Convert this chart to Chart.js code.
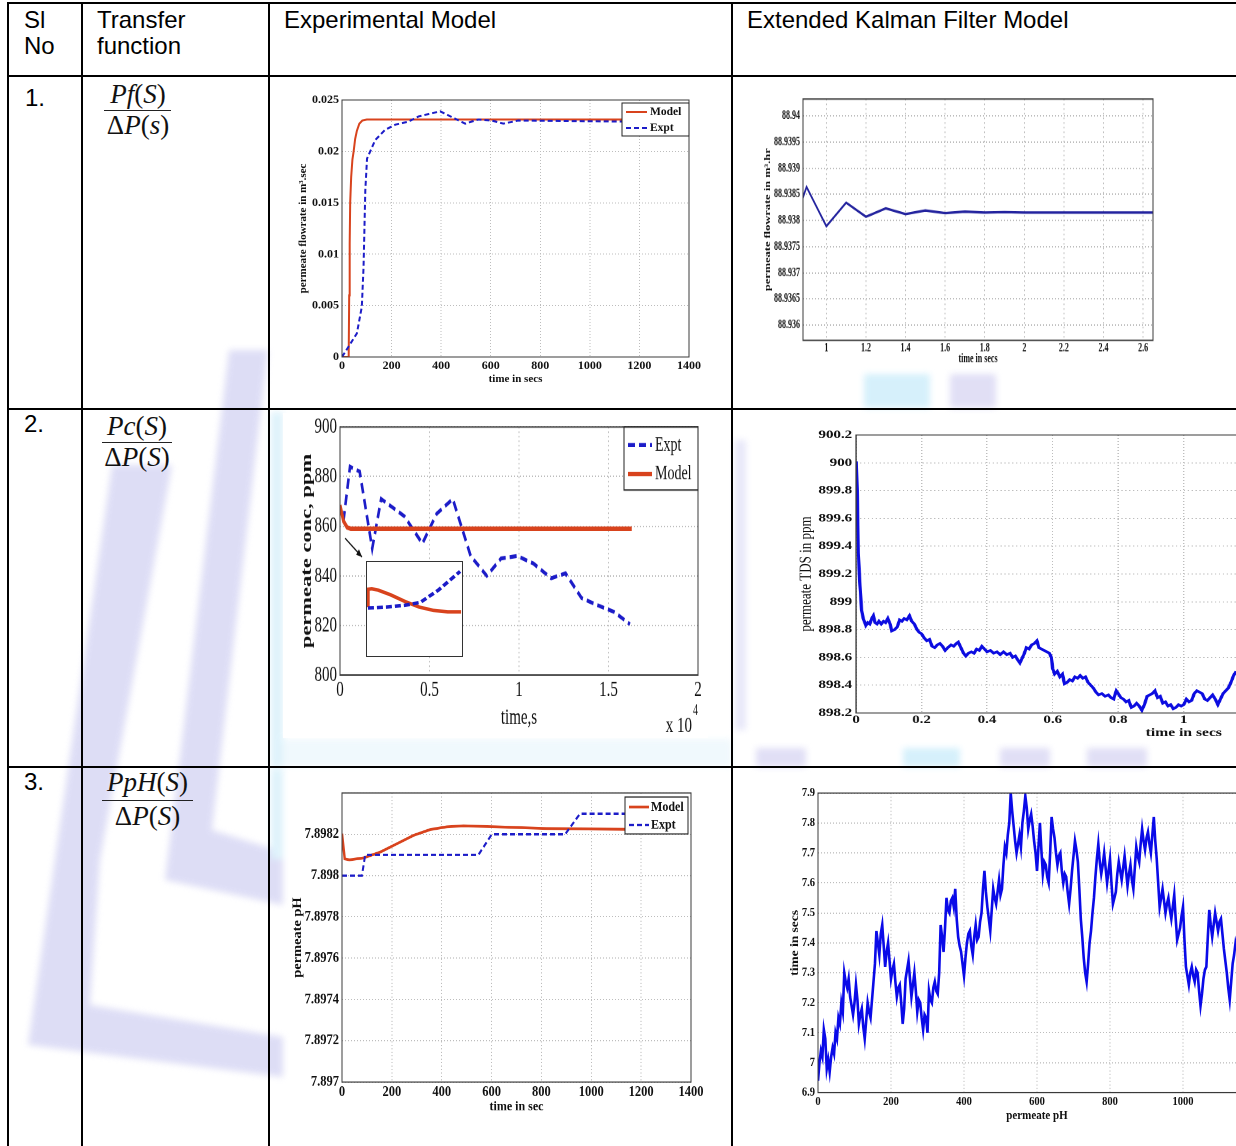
<!DOCTYPE html>
<html>
<head>
<meta charset="utf-8">
<script src="https://cdn.jsdelivr.net/npm/chart.js@4.4.1/dist/chart.umd.min.js"></script>
<style>
  html, body { margin: 0; padding: 0; background: #fff; }
  body { width: 1236px; height: 1146px; overflow: hidden; position: relative; font-family: 'Liberation Sans', Arial, sans-serif; }
  .hline { position: absolute; height: 2px; background: #000; left: 7px; width: 1240px; }
  .vline { position: absolute; width: 2px; background: #000; top: 2px; height: 1150px; }
  .hd { position: absolute; font-size: 24px; line-height: 26px; color: #000; white-space: nowrap; }
  .math { position: absolute; font-family: 'Liberation Serif', 'Times New Roman', serif; font-size: 27px; line-height: 27px; text-align: center; color: #111; white-space: nowrap; }
  .bar { position: absolute; height: 1px; background: #222; }
  .plot { position: absolute; transform-origin: 0 0; }
  .inset { position: absolute; background: #fff; border: 1px solid #333; }
</style>
</head>
<body>

<!-- watermark of the journal page, very light -->
<svg width="1236" height="1146" style="position:absolute;left:0;top:0">
  <defs><filter id="soft"><feGaussianBlur stdDeviation="3"/></filter></defs>
  <g filter="url(#soft)" opacity="0.85">
    <polygon points="229,350 268,350 212,830 283,852 283,905 165,880" fill="#d8d8f4"/>
    <polygon points="112,465 172,465 100,860 90,1005 283,1037 283,1077 28,1045" fill="#d8d8f4"/>
    <rect x="864" y="374" width="66" height="34" fill="#cfeefb"/>
    <rect x="950" y="374" width="46" height="34" fill="#dcdaf4"/>
    <rect x="756" y="748" width="50" height="19" fill="#dcdaf4"/>
    <rect x="903" y="748" width="57" height="19" fill="#cfeefb"/>
    <rect x="1000" y="748" width="50" height="19" fill="#dcdaf4"/>
    <rect x="1087" y="748" width="60" height="19" fill="#dcdaf4"/>
    <rect x="735" y="440" width="11" height="290" fill="#e4e4f8"/>
    <rect x="271" y="412" width="12" height="355" fill="#d9f1fb"/>
    <rect x="283" y="739" width="449" height="28" fill="#eef8fd"/>
    <rect x="271" y="769" width="12" height="90" fill="#d9f1fb"/>
  </g>
</svg>

<div style="position:absolute;left:283px;top:413px;width:425px;height:325px;background:#fff"></div>

<div class="plot" id="p1"></div>
<div class="plot" id="p2"></div>
<div class="plot" id="p3"></div>
<div class="plot" id="p4"></div>
<div class="plot" id="p5"></div>
<div class="plot" id="p6"></div>
<div class="inset" style="left:366px;top:561px;width:95px;height:94px"><canvas id="inset" width="95" height="94"></canvas></div>

<!-- table text -->
<div class="hd" style="left:24px;top:7px">Sl<br>No</div>
<div class="hd" style="left:97px;top:7px">Transfer<br>function</div>
<div class="hd" style="left:284px;top:7px">Experimental Model</div>
<div class="hd" style="left:747px;top:7px">Extended Kalman Filter Model</div>
<div class="hd" style="left:25px;top:85px">1.</div>
<div class="hd" style="left:24px;top:411px">2.</div>
<div class="hd" style="left:24px;top:769px">3.</div>

<div class="math" style="left:104px;top:81px;width:68px"><i>Pf</i>(<i>S</i>)</div>
<div class="bar" style="left:104px;top:110px;width:67px"></div>
<div class="math" style="left:104px;top:112px;width:68px">Δ<i>P</i>(<i>s</i>)</div>

<div class="math" style="left:102px;top:413px;width:70px"><i>Pc</i>(<i>S</i>)</div>
<div class="bar" style="left:102px;top:442px;width:70px"></div>
<div class="math" style="left:102px;top:444px;width:70px">Δ<i>P</i>(<i>S</i>)</div>

<div class="math" style="left:102px;top:769px;width:91px"><i>PpH</i>(<i>S</i>)</div>
<div class="bar" style="left:102px;top:800px;width:91px"></div>
<div class="math" style="left:102px;top:803px;width:91px">Δ<i>P</i>(<i>S</i>)</div>

<!-- table rules -->
<div class="hline" style="top:2px"></div>
<div class="hline" style="top:75px"></div>
<div class="hline" style="top:408px"></div>
<div class="hline" style="top:766px"></div>
<div class="vline" style="left:7px"></div>
<div class="vline" style="left:81px"></div>
<div class="vline" style="left:268px"></div>
<div class="vline" style="left:731px"></div>

<script>
// ---------- row 1: permeate flowrate ----------
const flowModelT = [0, 27, 29, 31, 33, 37, 42, 47, 53, 60, 70, 82, 100, 1150];
const flowModelY = [0, 0, 0.006, 0.011, 0.015, 0.0175, 0.0192, 0.0200, 0.0212, 0.0220, 0.0227, 0.0230, 0.0231, 0.0231];
const flowExptT = [0, 34, 60, 67, 80, 87, 94, 101, 134, 174, 215, 268, 309, 396, 497, 550, 604, 651, 711, 1150];
const flowExptY = [0, 0.0013, 0.0023, 0.0032, 0.0049, 0.0088, 0.0162, 0.0193, 0.0211, 0.0221, 0.0226, 0.0229, 0.0234, 0.0239, 0.0227, 0.0231, 0.0230, 0.0227, 0.0230, 0.0229];
const flowTicksX = [0, 200, 400, 600, 800, 1000, 1200, 1400];
const flowLabelsX = ['0', '200', '400', '600', '800', '1000', '1200', '1400'];
const flowTicksY = [0, 0.005, 0.01, 0.015, 0.02, 0.025];
const flowLabelsY = ['0', '0.005', '0.01', '0.015', '0.02', '0.025'];

const ekfFlowT = [0.88, 0.9, 1.0, 1.1, 1.2, 1.3, 1.4, 1.5, 1.6, 1.7, 1.8, 1.9, 2.0, 2.65];
const ekfFlowY = [88.93842, 88.93864, 88.93789, 88.93834, 88.93807, 88.93823, 88.93812, 88.93819, 88.93814, 88.93817, 88.93815, 88.93816, 88.93815, 88.93815];
const ekfFlowTicksX = [1, 1.2, 1.4, 1.6, 1.8, 2, 2.2, 2.4, 2.6];
const ekfFlowLabelsX = ['1', '1.2', '1.4', '1.6', '1.8', '2', '2.2', '2.4', '2.6'];
const ekfFlowTicksY = [88.936, 88.9365, 88.937, 88.9375, 88.938, 88.9385, 88.939, 88.9395, 88.94];
const ekfFlowLabelsY = ['88.936', '88.9365', '88.937', '88.9375', '88.938', '88.9385', '88.939', '88.9395', '88.94'];

// ---------- row 2: permeate concentration / TDS ----------
const concExptT = [190, 560, 1100, 1800, 2300, 3600, 4600, 5400, 6300, 7300, 8200, 9000, 9900, 10800, 11800, 12600, 13500, 14600, 15300, 16200];
const concExptY = [862, 884, 882, 851, 871, 864, 853, 865, 871, 848, 840, 847, 848, 845, 839, 841, 831, 827.5, 825.5, 820.5];
const concModelT = [0, 200, 400, 600, 16300];
const concModelY = [868.5, 862, 859.5, 859, 859];
const concTicksX = [0, 5000, 10000, 15000, 20000];
const concLabelsX = ['0', '0.5', '1', '1.5', '2'];
const concTicksY = [800, 820, 840, 860, 880, 900];
const concLabelsY = ['800', '820', '840', '860', '880', '900'];
// zoomed inset (relative units inside the small box)
const insetModelX = [0.01, 0.01, 0.05, 0.12, 0.25, 0.4, 0.55, 0.7, 0.85, 0.99];
const insetModelY = [0.52, 0.71, 0.715, 0.70, 0.65, 0.58, 0.52, 0.485, 0.47, 0.47];
const insetExptX = [0.01, 0.2, 0.4, 0.56, 0.75, 0.98];
const insetExptY = [0.51, 0.52, 0.54, 0.57, 0.70, 0.90];

const tdsT = [0.001,0.004,0.007,0.012,0.017,0.022,0.030,0.036,0.042,0.048,
  0.053,0.058,0.064,0.070,0.077,0.084,0.090,0.097,0.104,0.109,
  0.118,0.126,0.133,0.140,0.147,0.155,0.163,0.170,0.178,0.186,
  0.193,0.200,0.208,0.216,0.224,0.232,0.240,0.248,0.256,0.264,
  0.272,0.280,0.290,0.298,0.306,0.312,0.320,0.328,0.335,0.343,
  0.352,0.360,0.368,0.376,0.384,0.392,0.400,0.410,0.420,0.430,
  0.440,0.450,0.460,0.470,0.478,0.486,0.494,0.500,0.506,0.512,
  0.520,0.528,0.536,0.544,0.552,0.558,0.566,0.574,0.582,0.590,
  0.596,0.600,0.606,0.614,0.622,0.630,0.636,0.644,0.652,0.660,
  0.668,0.676,0.684,0.692,0.700,0.708,0.716,0.724,0.732,0.740,
  0.750,0.760,0.770,0.778,0.786,0.794,0.800,0.808,0.816,0.824,
  0.832,0.840,0.848,0.856,0.864,0.872,0.880,0.888,0.896,0.904,
  0.912,0.920,0.928,0.936,0.944,0.952,0.960,0.968,0.976,0.984,
  0.992,1.000,1.008,1.016,1.024,1.032,1.040,1.048,1.056,1.064,
  1.072,1.080,1.088,1.096,1.104,1.112,1.120,1.128,1.136,1.144,
  1.152,1.160];
const tdsY = [900.01,899.75,899.35,899.12,898.94,898.88,898.83,898.85,898.84,898.88,
  898.90,898.85,898.84,898.86,898.84,898.86,898.85,898.88,898.84,898.79,
  898.80,898.82,898.87,898.86,898.88,898.87,898.90,898.86,898.84,898.80,
  898.78,898.77,898.74,898.72,898.73,898.68,898.67,898.69,898.70,898.68,
  898.65,898.67,898.69,898.68,898.70,898.71,898.67,898.63,898.61,898.63,
  898.64,898.63,898.66,898.65,898.68,898.66,898.64,898.65,898.63,898.64,
  898.62,898.64,898.62,898.63,898.60,898.61,898.58,898.56,898.59,898.62,
  898.67,898.66,898.69,898.70,898.72,898.67,898.66,898.65,898.64,898.63,
  898.60,898.52,898.48,898.50,898.46,898.48,898.41,898.42,898.44,898.43,
  898.46,898.45,898.47,898.45,898.46,898.42,898.40,898.38,898.35,898.33,
  898.34,898.32,898.33,898.31,898.30,898.36,898.34,898.31,898.30,898.28,
  898.29,898.24,898.25,898.27,898.25,898.22,898.26,898.32,898.33,898.34,
  898.36,898.31,898.32,898.27,898.28,898.25,898.26,898.23,898.24,898.26,
  898.25,898.26,898.30,898.28,898.29,898.34,898.36,898.35,898.34,898.30,
  898.29,898.31,898.33,898.30,898.26,898.30,898.34,898.36,898.38,898.42,
  898.47,898.50];
const tdsTicksX = [0, 0.2, 0.4, 0.6, 0.8, 1, 1.2, 1.4, 1.6, 1.8, 2];
const tdsLabelsX = ['0', '0.2', '0.4', '0.6', '0.8', '1', '1.2', '1.4', '1.6', '1.8', '2'];
const tdsTicksY = [898.2, 898.4, 898.6, 898.8, 899, 899.2, 899.4, 899.6, 899.8, 900, 900.2];
const tdsLabelsY = ['898.2', '898.4', '898.6', '898.8', '899', '899.2', '899.4', '899.6', '899.8', '900', '900.2'];

// ---------- row 3: permeate pH ----------
const phModelT = [0, 11, 30, 87, 154, 220, 287, 354, 420, 487, 620, 821, 1150];
const phModelY = [7.898203, 7.898081, 7.898076, 7.898086, 7.898114, 7.898154, 7.898195, 7.898223, 7.898236, 7.898241, 7.898236, 7.898228, 7.898224];
const phExptT = [0, 80, 93, 547, 601, 895, 955, 1150];
const phExptY = [7.8980, 7.8980, 7.8981, 7.8981, 7.8982, 7.8982, 7.8983, 7.8983];
const phTicksX = [0, 200, 400, 600, 800, 1000, 1200, 1400];
const phLabelsX = ['0', '200', '400', '600', '800', '1000', '1200', '1400'];
const phTicksY = [7.897, 7.8972, 7.8974, 7.8976, 7.8978, 7.898, 7.8982, 7.8984];
const phLabelsY = ['7.897', '7.8972', '7.8974', '7.8976', '7.8978', '7.898', '7.8982', ''];

const ekfPhX = [0,4,8,12,16,20,24,28,32,36,40,44,48,52,56,60,64,68,72,76,
  80,84,88,92,96,100,104,108,112,116,120,124,128,132,136,140,144,148,152,156,
  160,164,168,172,176,180,184,188,192,196,200,204,208,212,216,220,224,228,232,236,
  240,244,248,252,256,260,264,268,272,276,280,284,288,292,296,300,304,308,312,316,
  320,324,328,332,336,340,344,348,352,356,360,364,368,372,376,380,384,388,392,396,
  400,404,408,412,416,420,424,428,432,436,440,444,448,452,456,460,464,468,472,476,
  480,484,488,492,496,500,504,508,512,516,520,524,528,532,536,540,544,548,552,556,
  560,564,568,572,576,580,584,588,592,596,600,604,608,612,616,620,624,628,632,636,
  640,644,648,652,656,660,664,668,672,676,680,684,688,692,696,700,704,708,712,716,
  720,724,728,732,736,740,744,748,752,756,760,764,768,772,776,780,784,788,792,796,
  800,804,808,812,816,820,824,828,832,836,840,844,848,852,856,860,864,868,872,876,
  880,884,888,892,896,900,904,908,912,916,920,924,928,932,936,940,944,948,952,956,
  960,964,968,972,976,980,984,988,992,996,1000,1004,1008,1012,1016,1020,1024,1028,1032,1036,
  1040,1044,1048,1052,1056,1060,1064,1068,1072,1076,1080,1084,1088,1092,1096,1100,1104,1108,1112,1116,
  1120,1124,1128,1132,1136,1140,1144,1148];
const ekfPhY = [6.94,7.00,7.04,7.02,7.11,7.08,6.98,7.01,6.97,7.02,7.05,7.03,7.10,7.08,7.15,7.13,7.20,7.17,7.30,7.27,
  7.25,7.28,7.22,7.19,7.16,7.20,7.26,7.21,7.13,7.16,7.18,7.12,7.08,7.14,7.20,7.17,7.15,7.21,7.27,7.33,
  7.44,7.40,7.36,7.43,7.46,7.39,7.32,7.37,7.40,7.34,7.28,7.31,7.33,7.27,7.22,7.25,7.26,7.20,7.13,7.18,
  7.28,7.31,7.34,7.28,7.22,7.26,7.30,7.24,7.17,7.21,7.20,7.15,7.11,7.16,7.15,7.10,7.24,7.21,7.20,7.25,
  7.27,7.24,7.23,7.30,7.46,7.42,7.37,7.45,7.55,7.51,7.50,7.54,7.55,7.52,7.58,7.48,7.42,7.39,7.37,7.33,
  7.29,7.35,7.40,7.43,7.44,7.39,7.36,7.42,7.46,7.41,7.42,7.47,7.50,7.58,7.64,7.57,7.52,7.48,7.44,7.51,
  7.58,7.55,7.53,7.57,7.61,7.56,7.58,7.66,7.72,7.70,7.76,7.80,7.90,7.84,7.79,7.74,7.70,7.73,7.76,7.72,
  7.80,7.84,7.89,7.85,7.78,7.81,7.83,7.79,7.74,7.70,7.64,7.72,7.80,7.71,7.63,7.67,7.66,7.62,7.60,7.70,
  7.82,7.78,7.75,7.70,7.66,7.69,7.70,7.64,7.60,7.63,7.62,7.57,7.53,7.58,7.64,7.69,7.74,7.71,7.67,7.58,
  7.48,7.42,7.35,7.30,7.27,7.33,7.40,7.44,7.50,7.55,7.62,7.68,7.73,7.67,7.63,7.66,7.70,7.65,7.60,7.64,
  7.68,7.60,7.53,7.55,7.57,7.63,7.67,7.64,7.61,7.65,7.69,7.64,7.59,7.63,7.66,7.61,7.58,7.65,7.72,7.69,
  7.67,7.73,7.78,7.74,7.71,7.75,7.77,7.73,7.70,7.76,7.82,7.74,7.68,7.60,7.52,7.55,7.58,7.54,7.50,7.53,
  7.55,7.51,7.48,7.52,7.56,7.48,7.41,7.43,7.45,7.49,7.52,7.41,7.32,7.29,7.26,7.30,7.32,7.29,7.27,7.31,
  7.30,7.24,7.19,7.23,7.28,7.31,7.32,7.42,7.51,7.46,7.42,7.46,7.50,7.47,7.44,7.47,7.48,7.43,7.38,7.34,
  7.30,7.25,7.21,7.27,7.33,7.36,7.40,7.38];
const ekfPhTicksX = [0, 200, 400, 600, 800, 1000, 1200];
const ekfPhLabelsX = ['0', '200', '400', '600', '800', '1000', '1200'];
const ekfPhTicksY = [6.9, 7, 7.1, 7.2, 7.3, 7.4, 7.5, 7.6, 7.7, 7.8, 7.9];
const ekfPhLabelsY = ['6.9', '7', '7.1', '7.2', '7.3', '7.4', '7.5', '7.6', '7.7', '7.8', '7.9'];

// ---------- drawing ----------
const SERIF = "'Liberation Serif', 'Times New Roman', serif";
const RED = '#d8431d';
const BLUE = '#1c1cc8';

function serif(size, weight) {
    return { family: SERIF, size: size, weight: weight || 'bold', lineHeight: 1.2 };
}

function series(label, xs, ys, color, width, dash, order) {
    return {
        label: label,
        data: xs.map((x, i) => ({ x: x, y: ys[i] })),
        borderColor: color,
        borderWidth: width,
        borderDash: dash || [],
        pointRadius: 0,
        tension: 0,
        fill: false,
        order: order || 0
    };
}

// MATLAB style box round the axes
const frame = () => ({
    id: 'frame',
    afterDatasetsDraw(chart) {
        const { ctx, chartArea: a } = chart;
        ctx.save();
        ctx.strokeStyle = '#3a3a3a';
        ctx.lineWidth = 1;
        ctx.strokeRect(a.left, a.top, a.right - a.left, a.bottom - a.top);
        ctx.restore();
    }
});

// legend box inside the axes (page coordinates, converted to the canvas)
const legendBox = spec => ({ ix, iy }) => ({
    id: 'legendBox',
    afterDraw(chart) {
        const ctx = chart.ctx;
        const x0 = ix(spec.box[0]), y0 = iy(spec.box[1]);
        const x1 = ix(spec.box[0] + spec.box[2]), y1 = iy(spec.box[1] + spec.box[3]);
        ctx.save();
        ctx.fillStyle = '#fff';
        ctx.fillRect(x0, y0, x1 - x0, y1 - y0);
        ctx.strokeStyle = '#222';
        ctx.lineWidth = 1;
        ctx.strokeRect(x0, y0, x1 - x0, y1 - y0);
        ctx.font = spec.font;
        ctx.textBaseline = 'middle';
        ctx.textAlign = 'left';
        spec.items.forEach((di, k) => {
            const ds = chart.data.datasets[di];
            const y = iy(spec.rows[k]);
            ctx.strokeStyle = ds.borderColor;
            ctx.lineWidth = ds.borderWidth;
            ctx.setLineDash(ds.borderDash || []);
            ctx.beginPath();
            ctx.moveTo(ix(spec.line[0]), y);
            ctx.lineTo(ix(spec.line[1]), y);
            ctx.stroke();
            ctx.setLineDash([]);
            ctx.fillStyle = '#111';
            ctx.fillText(ds.label, ix(spec.textX), y);
        });
        ctx.restore();
    }
});

// arrow pointing at the zoomed region, given in data values
const arrowNote = (from, to) => () => ({
    id: 'arrowNote',
    afterDatasetsDraw(chart) {
        const { ctx, scales: { x, y } } = chart;
        const x1 = x.getPixelForValue(from[0]), y1 = y.getPixelForValue(from[1]);
        const x2 = x.getPixelForValue(to[0]), y2 = y.getPixelForValue(to[1]);
        const ang = Math.atan2(y2 - y1, x2 - x1);
        ctx.save();
        ctx.strokeStyle = '#111';
        ctx.fillStyle = '#111';
        ctx.lineWidth = 1;
        ctx.beginPath();
        ctx.moveTo(x1, y1);
        ctx.lineTo(x2, y2);
        ctx.stroke();
        ctx.beginPath();
        ctx.moveTo(x2, y2);
        ctx.lineTo(x2 - 6 * Math.cos(ang - 0.4), y2 - 6 * Math.sin(ang - 0.4));
        ctx.lineTo(x2 - 6 * Math.cos(ang + 0.4), y2 - 6 * Math.sin(ang + 0.4));
        ctx.closePath();
        ctx.fill();
        ctx.restore();
    }
});

// "x 10^4" multiplier under the x axis
const expNote = () => ({ ix, iy }) => ({
    id: 'expNote',
    afterDraw(chart) {
        const ctx = chart.ctx;
        ctx.save();
        ctx.fillStyle = '#111';
        ctx.textBaseline = 'alphabetic';
        ctx.textAlign = 'right';
        ctx.font = '15px ' + SERIF;
        ctx.fillText('x 10', ix(692), iy(732));
        ctx.textAlign = 'left';
        ctx.font = '10px ' + SERIF;
        ctx.fillText('4', ix(693), iy(715));
        ctx.restore();
    }
});

// g: page geometry of the picture (box, plot area, title and tick positions, stretch)
function drawPlot(id, g, datasets, ax, extras) {
    const W = g.box[2] / g.sx, H = g.box[3] / g.sy;
    const ix = px => (px - g.box[0]) / g.sx;
    const iy = py => (py - g.box[1]) / g.sy;
    const yW = ix(g.area[0]), padTop = iy(g.area[1]);
    const padRight = W - ix(g.area[2]), xH = H - iy(g.area[3]);

    const wrap = document.getElementById(id);
    wrap.style.left = g.box[0] + 'px';
    wrap.style.top = g.box[1] + 'px';
    wrap.style.transform = 'scale(' + g.sx + ',' + g.sy + ')';
    const cv = document.createElement('canvas');
    cv.width = Math.round(W);
    cv.height = Math.round(H);
    wrap.appendChild(cv);

    const axis = (a, horiz) => ({
        type: 'linear',
        min: a.min,
        max: a.max,
        afterBuildTicks: s => { s.ticks = a.ticks.map(v => ({ value: v })); },
        afterFit: s => { if (horiz) s.height = xH; else s.width = yW; },
        ticks: {
            autoSkip: false,
            maxRotation: 0,
            color: '#111',
            font: a.tickFont,
            padding: horiz ? iy(g.xTickY) - iy(g.area[3]) - a.tickFont.size * 0.6 : 3,
            callback: (v, i) => a.labels[i]
        },
        grid: { color: '#bdbdbd', lineWidth: 1, drawTicks: false },
        border: { display: false, dash: [1, 2] },
        title: {
            display: true,
            text: a.title,
            color: '#111',
            font: a.titleFont,
            padding: horiz
                ? { top: 0, bottom: H - iy(g.xTitleY) - a.titleFont.size * 0.6 }
                : { top: ix(g.yTitleX) - a.titleFont.size * 0.6, bottom: 0 }
        }
    });

    const helpers = { ix, iy };
    return new Chart(cv, {
        type: 'line',
        data: { datasets: datasets },
        options: {
            responsive: false,
            animation: false,
            devicePixelRatio: 2,
            layout: { padding: { top: padTop, right: padRight, left: 0, bottom: 0 } },
            plugins: { legend: { display: false }, tooltip: { enabled: false } },
            scales: { x: axis(ax.x, true), y: axis(ax.y, false) }
        },
        plugins: [frame()].concat((extras || []).map(f => f(helpers)))
    });
}

// row 1, experimental
drawPlot('p1',
    { box: [285, 85, 425, 303], area: [342, 100, 689, 357], sx: 1, sy: 1, yTitleX: 303, xTitleY: 379, xTickY: 366 },
    [series('Model', flowModelT, flowModelY, RED, 2, [], 1),
     series('Expt', flowExptT, flowExptY, BLUE, 2, [5, 3], 0)],
    {
        x: { min: 0, max: 1400, ticks: flowTicksX, labels: flowLabelsX, tickFont: serif(12), title: 'time in secs', titleFont: serif(11) },
        y: { min: 0, max: 0.025, ticks: flowTicksY, labels: flowLabelsY, tickFont: serif(12), title: 'permeate flowrate in m³.sec', titleFont: serif(11) }
    },
    [legendBox({ box: [622, 103, 67, 33], rows: [112, 128], line: [626, 647], textX: 650, font: 'bold 11.5px ' + SERIF, items: [0, 1] })]
);

// row 1, EKF
drawPlot('p2',
    { box: [745, 84, 420, 288], area: [803, 99, 1153, 340], sx: 1, sy: 1.55, yTitleX: 768, xTitleY: 359, xTickY: 348 },
    [series('EKF', ekfFlowT, ekfFlowY, '#23239e', 1.6)],
    {
        x: { min: 0.882, max: 2.65, ticks: ekfFlowTicksX, labels: ekfFlowLabelsX, tickFont: serif(8), title: 'time in secs', titleFont: serif(8) },
        y: { min: 88.93571, max: 88.94032, ticks: ekfFlowTicksY, labels: ekfFlowLabelsY, tickFont: serif(8), title: 'permeate flowrate in m³.hr', titleFont: serif(8) }
    }
);

// row 2, experimental
drawPlot('p3',
    { box: [283, 405, 425, 333], area: [340, 427, 698, 675], sx: 1, sy: 1.5, yTitleX: 307, xTitleY: 718, xTickY: 690 },
    [series('Model', concModelT, concModelY, RED, 3, [], 0),
     series('Expt', concExptT, concExptY, BLUE, 2.6, [7, 4], 1)],
    {
        x: { min: 0, max: 20000, ticks: concTicksX, labels: concLabelsX, tickFont: serif(15, 'normal'), title: 'time,s', titleFont: serif(15, 'normal') },
        y: { min: 800, max: 900, ticks: concTicksY, labels: concLabelsY, tickFont: serif(15, 'normal'), title: 'permeate conc, ppm', titleFont: serif(15) }
    },
    [arrowNote([280, 855.2], [1230, 847.6]), expNote(),
     legendBox({ box: [624, 427, 74, 63], rows: [445, 474], line: [628, 652], textX: 655, font: '14px ' + SERIF, items: [1, 0] })]
);

// row 2, EKF
drawPlot('p4',
    { box: [745, 422, 800, 325], area: [856, 435, 1512, 713], sx: 1.3, sy: 1, yTitleX: 806, xTitleY: 733, xTickY: 720 },
    [series('EKF', tdsT, tdsY, '#0c0ce0', 2.5)],
    {
        x: { min: 0, max: 2, ticks: tdsTicksX, labels: tdsLabelsX, tickFont: serif(11.5), title: 'time in secs', titleFont: serif(12) },
        y: { min: 898.2, max: 900.2, ticks: tdsTicksY, labels: tdsLabelsY, tickFont: serif(11.5), title: 'permeate TDS in ppm', titleFont: serif(13, 'normal') }
    }
);

// row 3, experimental
drawPlot('p5',
    { box: [285, 778, 425, 345], area: [342, 793, 691, 1082], sx: 1, sy: 1.15, yTitleX: 298, xTitleY: 1107, xTickY: 1092 },
    [series('Model', phModelT, phModelY, RED, 2.4, [], 1),
     series('Expt', phExptT, phExptY, BLUE, 2, [5, 3], 0)],
    {
        x: { min: 0, max: 1400, ticks: phTicksX, labels: phLabelsX, tickFont: serif(12.5), title: 'time in sec', titleFont: serif(12) },
        y: { min: 7.897, max: 7.8984, ticks: phTicksY, labels: phLabelsY, tickFont: serif(12.5), title: 'permeate pH', titleFont: serif(12.5) }
    },
    [legendBox({ box: [625, 797, 63, 37], rows: [807, 825], line: [629, 649], textX: 651, font: 'bold 12px ' + SERIF, items: [0, 1] })]
);

// row 3, EKF
drawPlot('p6',
    { box: [770, 778, 500, 356], area: [818, 793, 1256, 1093], sx: 1, sy: 1.17, yTitleX: 795, xTitleY: 1116, xTickY: 1102 },
    [series('EKF', ekfPhX, ekfPhY, '#0a0ae8', 2.6)],
    {
        x: { min: 0, max: 1200, ticks: ekfPhTicksX, labels: ekfPhLabelsX, tickFont: serif(10.5), title: 'permeate pH', titleFont: serif(11) },
        y: { min: 6.9, max: 7.9, ticks: ekfPhTicksY, labels: ekfPhLabelsY, tickFont: serif(10.5), title: 'time in secs', titleFont: serif(11.5) }
    }
);

// zoomed inset of row 2
new Chart(document.getElementById('inset'), {
    type: 'line',
    data: {
        datasets: [
            series('Model', insetModelX, insetModelY, RED, 3.5, [], 1),
            series('Expt', insetExptX, insetExptY, BLUE, 3.5, [6, 3], 0)
        ]
    },
    options: {
        responsive: false,
        animation: false,
        devicePixelRatio: 2,
        layout: { padding: 0 },
        plugins: { legend: { display: false }, tooltip: { enabled: false } },
        scales: {
            x: { type: 'linear', min: 0, max: 1, display: false },
            y: { min: 0, max: 1, display: false }
        }
    }
});
</script>
</body>
</html>
